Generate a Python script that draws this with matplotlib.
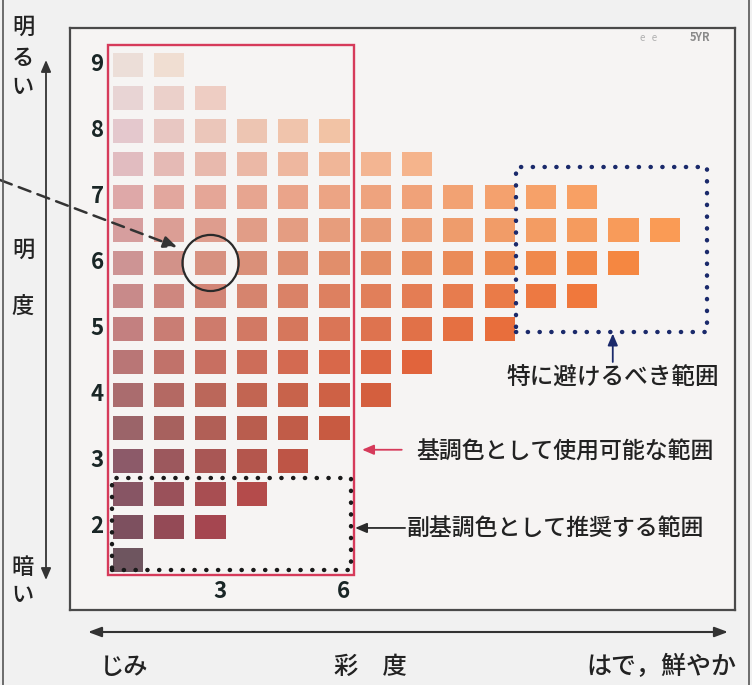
import numpy as np
import matplotlib
matplotlib.use("Agg")
import matplotlib.pyplot as plt
from matplotlib.patches import Rectangle, Ellipse

plt.rcParams['font.family'] = ['Noto Sans CJK JP', 'DejaVu Sans']

# ---------------- data ----------------
ROW_VALUES = [9, 8.5, 8, 7.5, 7, 6.5, 6, 5.5, 5, 4.5, 4, 3.5, 3, 2.5, 2, 1.5]
ROW_COUNTS = [2, 3, 6, 8, 12, 14, 13, 12, 10, 8, 7, 6, 5, 4, 3, 1]
ROW_LEFT_COLORS = [
    (236, 222, 216), (232, 212, 212), (228, 200, 205), (225, 188, 192),
    (222, 168, 168), (214, 158, 158), (205, 148, 148), (200, 138, 138),
    (195, 128, 128), (185, 118, 118), (170, 108, 110), (155, 100, 105),
    (140, 90, 105), (135, 85, 100), (125, 80, 95), (110, 85, 95)]
ROW_RIGHT_COLORS = [
    (240, 222, 210), (238, 205, 195), (242, 195, 165), (245, 180, 140),
    (248, 160, 100), (250, 155, 85), (245, 135, 65), (240, 120, 60),
    (232, 110, 60), (225, 100, 60), (212, 95, 62), (200, 90, 65),
    (190, 85, 70), (180, 75, 75), (165, 70, 80), (110, 85, 95)]
VALUE_LABELS = [9, 8, 7, 6, 5, 4, 3, 2]
CHROMA_LABELS = [3, 6]

# regions (chroma / value coordinates)
BASE_RANGE = dict(c0=0.52, c1=6.47, v0=1.27, v1=9.30)      # 基調色として使用可能な範囲
SUB_RANGE = dict(c0=0.61, c1=6.40, v0=1.35, v1=2.74)       # 副基調色として推奨する範囲
AVOID_RANGE = dict(c0=10.39, c1=15.02, v0=4.95, v1=7.45)   # 特に避けるべき範囲
EXAMPLE_POINT = (3, 6)

W, H = 752, 685
fig = plt.figure(figsize=(W / 100, H / 100), dpi=100)
fig.patch.set_facecolor('#f1f1f1')

def fx(px):
    return px / W

def fy(py):
    return 1 - py / H

TXT = '#222222'

# main chart axes (box)
L, R, T, B = 70, 735, 28, 610
ax = fig.add_axes([fx(L), fy(B), (R - L) / W, (B - T) / H])
ax.set_facecolor('#f6f4f3')
ax.set_xlim(-0.404, 15.70)
ax.set_ylim(0.742, 9.56)
ax.set_xticks([])
ax.set_yticks([])
for s in ax.spines.values():
    s.set_color('#4a4a4a')
    s.set_linewidth(1.6)

# swatches
for v, n, lc, rc in zip(ROW_VALUES, ROW_COUNTS, ROW_LEFT_COLORS, ROW_RIGHT_COLORS):
    chroma = np.arange(1, n + 1)
    t = ((chroma - 1) / max(n - 1, 1)) ** 0.8
    lc_a = np.array(lc) / 255
    rc_a = np.array(rc) / 255
    cols = [tuple(lc_a + (rc_a - lc_a) * ti) for ti in t]
    ax.bar(chroma, 0.35, bottom=v - 0.175, width=0.73, color=cols,
           edgecolor='none', zorder=2)

# value labels
for v in VALUE_LABELS:
    ax.text(0.25, v, str(v), ha='center', va='center', fontsize=16,
            fontweight='bold', color='#1a2626', zorder=5)
for ch in CHROMA_LABELS:
    ax.text(ch + 0.22, 1.02, str(ch), ha='center', va='center', fontsize=16,
            fontweight='bold', color='#1a2626', zorder=5)

ax.text(0.947, 0.983, '5YR', transform=ax.transAxes, ha='center', va='center',
        fontsize=8, fontweight='bold', color='#8a8a8a')
ax.text(0.87, 0.983, 'e   e', transform=ax.transAxes, ha='center', va='center',
        fontsize=7, color='#b0b0b0')

# red box
r = BASE_RANGE
ax.add_patch(Rectangle((r['c0'], r['v0']), r['c1'] - r['c0'], r['v1'] - r['v0'],
                       fill=False, edgecolor='#d63a5a', lw=1.7, zorder=4))
# black dotted box
r = SUB_RANGE
ax.add_patch(Rectangle((r['c0'], r['v0']), r['c1'] - r['c0'], r['v1'] - r['v0'],
                       fill=False, edgecolor='#1a1a1a', lw=3.2,
                       linestyle=(0, (0.05, 2.6)), capstyle='round', zorder=5))
# navy dotted box
r = AVOID_RANGE
ax.add_patch(Rectangle((r['c0'], r['v0']), r['c1'] - r['c0'], r['v1'] - r['v0'],
                       fill=False, edgecolor='#1b2a6b', lw=3.2,
                       linestyle=(0, (0.05, 2.6)), capstyle='round', zorder=5))

# circle
ax.add_patch(Ellipse(EXAMPLE_POINT, width=1.36, height=0.85, fill=False,
                     edgecolor='#2a2a2a', lw=1.6, zorder=6))

# dashed arrow from outside
ax.annotate('', xy=(2.19, 6.24), xycoords='data',
            xytext=(0, fy(180)), textcoords='figure fraction',
            arrowprops=dict(arrowstyle='-|>,head_length=0.8,head_width=0.35',
                            color='#333333', lw=1.8, linestyle=(0, (5, 3)),
                            shrinkA=0, shrinkB=0), zorder=7,
            annotation_clip=False)

# annotation arrows + texts
ax.annotate('', xy=(6.67, 3.17), xytext=(7.63, 3.17),
            arrowprops=dict(arrowstyle='-|>,head_length=0.7,head_width=0.3',
                            color='#d63a5a', lw=1.3, shrinkA=0, shrinkB=0))
ax.text(7.98, 3.13, '基調色として使用可能な範囲', ha='left', va='center',
        fontsize=16.5, fontweight='medium', color=TXT)

ax.annotate('', xy=(6.50, 1.985), xytext=(7.71, 1.985),
            arrowprops=dict(arrowstyle='-|>,head_length=0.7,head_width=0.3',
                            color='#2a2a2a', lw=1.3, shrinkA=0, shrinkB=0))
ax.text(7.74, 1.985, '副基調色として推奨する範囲', ha='left', va='center',
        fontsize=16.5, fontweight='medium', color=TXT)

ax.annotate('', xy=(12.74, 4.93), xytext=(12.74, 4.50),
            arrowprops=dict(arrowstyle='-|>,head_length=0.7,head_width=0.3',
                            color='#1b2a6b', lw=1.3, shrinkA=0, shrinkB=0))
ax.text(12.74, 4.26, '特に避けるべき範囲', ha='center', va='center',
        fontsize=17, fontweight='medium', color=TXT)

# ---------------- outer decorations ----------------
over = fig.add_axes([0, 0, 1, 1], facecolor='none')
over.set_xlim(0, W)
over.set_ylim(H, 0)
over.axis('off')

# page borders
over.plot([2.5, 2.5], [0, H], color='#555555', lw=1.2)
over.plot([748.5, 748.5], [0, H], color='#555555', lw=1.2)

# vertical value arrow
over.annotate('', xy=(46, 60), xytext=(46, 580),
              arrowprops=dict(arrowstyle='<|-|>,head_length=0.7,head_width=0.3',
                              color='#333333', lw=1.3, shrinkA=0, shrinkB=0))
for txt, y in [('明', 27), ('る', 58), ('い', 87), ('明', 250), ('度', 306),
               ('暗', 568), ('い', 596)]:
    over.text(23, y, txt, ha='center', va='center', fontsize=16,
              fontweight='medium', color=TXT)

# horizontal chroma arrow
over.annotate('', xy=(88, 632), xytext=(728, 632),
              arrowprops=dict(arrowstyle='<|-|>,head_length=0.8,head_width=0.3',
                              color='#333333', lw=1.5, shrinkA=0, shrinkB=0))
over.text(100, 667, 'じみ', ha='left', va='center', fontsize=17.5,
          fontweight='medium', color=TXT)
over.text(370, 667, '彩　度', ha='center', va='center', fontsize=17.5,
          fontweight='medium', color=TXT)
over.text(736, 667, 'はで，鮮やか', ha='right', va='center', fontsize=18,
          fontweight='medium', color=TXT)

fig.savefig('out.png', dpi=100, facecolor=fig.get_facecolor())
